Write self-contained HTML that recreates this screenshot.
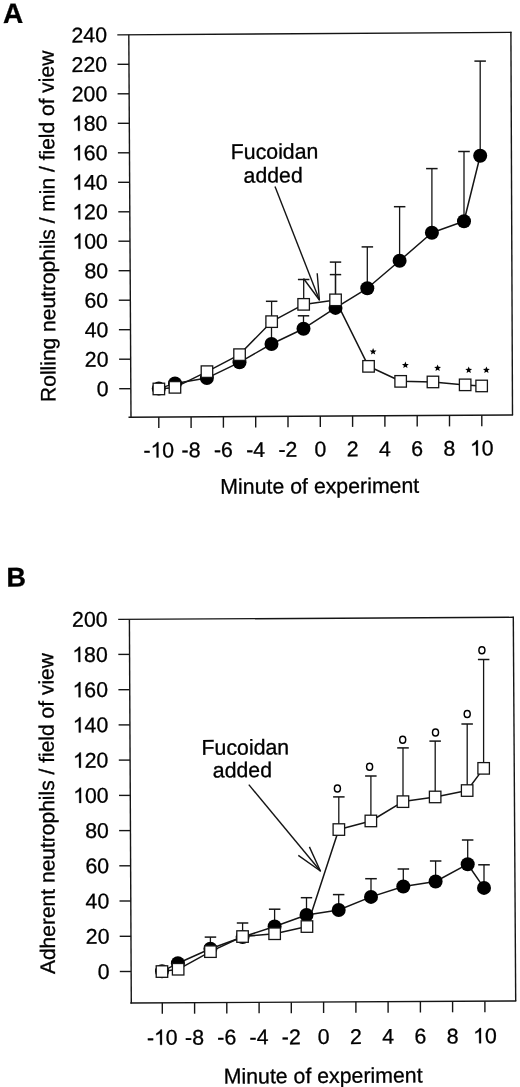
<!DOCTYPE html>
<html><head><meta charset="utf-8"><style>
html,body{margin:0;padding:0;background:#fff;overflow:hidden;}
svg{display:block;filter:grayscale(1);}
text{font-family:"Liberation Sans",sans-serif;fill:#000;stroke:#000;stroke-width:0.3px;}
path{fill:#000;}
</style></head><body>
<svg width="520" height="1087" viewBox="0 0 520 1087">
<rect width="520" height="1087" fill="#fff"/>
<line x1="117.3" y1="34.9" x2="511.5" y2="32.4" stroke="#151515" stroke-width="1.4"/>
<line x1="128.8" y1="34.8" x2="131.0" y2="417.8" stroke="#151515" stroke-width="1.4"/>
<line x1="128.5" y1="417.2" x2="513.1" y2="415.0" stroke="#151515" stroke-width="1.4"/>
<line x1="510.9" y1="31.8" x2="512.5" y2="415.0" stroke="#151515" stroke-width="1.4"/>
<line x1="119.2" y1="388.7" x2="130.7" y2="388.7" stroke="#151515" stroke-width="1.4"/>
<g transform="rotate(-0.33 108.6 396.1)"><text x="96.78" y="396.10" font-size="21.3">0</text></g>
<line x1="119.1" y1="359.2" x2="130.6" y2="359.2" stroke="#151515" stroke-width="1.4"/>
<g transform="rotate(-0.33 108.5 366.6)"><text x="84.80" y="366.61" font-size="21.3">2</text><text x="96.65" y="366.61" font-size="21.3">0</text></g>
<line x1="118.9" y1="329.7" x2="130.4" y2="329.7" stroke="#151515" stroke-width="1.4"/>
<g transform="rotate(-0.33 108.4 337.1)"><text x="84.66" y="337.12" font-size="21.3">4</text><text x="96.51" y="337.12" font-size="21.3">0</text></g>
<line x1="118.8" y1="300.2" x2="130.3" y2="300.2" stroke="#151515" stroke-width="1.4"/>
<g transform="rotate(-0.33 108.2 307.6)"><text x="84.53" y="307.63" font-size="21.3">6</text><text x="96.37" y="307.63" font-size="21.3">0</text></g>
<line x1="118.6" y1="270.7" x2="130.1" y2="270.7" stroke="#151515" stroke-width="1.4"/>
<g transform="rotate(-0.33 108.1 278.1)"><text x="84.39" y="278.14" font-size="21.3">8</text><text x="96.24" y="278.14" font-size="21.3">0</text></g>
<line x1="118.4" y1="241.2" x2="129.9" y2="241.2" stroke="#151515" stroke-width="1.4"/>
<g transform="rotate(-0.33 107.9 248.7)"><path transform="translate(72.41 248.65) scale(0.01040 -0.01040)" d="M769,0 L589,0 L589,1147 C546,1106 490,1065 420,1024 C351,983 288,953 233,932 L233,1106 C332,1153 419,1209 493,1275 C567,1341 619,1405 650,1466 L769,1466 Z" stroke="#000" stroke-width="0.3" vector-effect="non-scaling-stroke"/><text x="84.26" y="248.65" font-size="21.3">0</text><text x="96.10" y="248.65" font-size="21.3">0</text></g>
<line x1="118.3" y1="211.8" x2="129.8" y2="211.8" stroke="#151515" stroke-width="1.4"/>
<g transform="rotate(-0.33 107.8 219.2)"><path transform="translate(72.27 219.16) scale(0.01040 -0.01040)" d="M769,0 L589,0 L589,1147 C546,1106 490,1065 420,1024 C351,983 288,953 233,932 L233,1106 C332,1153 419,1209 493,1275 C567,1341 619,1405 650,1466 L769,1466 Z" stroke="#000" stroke-width="0.3" vector-effect="non-scaling-stroke"/><text x="84.12" y="219.16" font-size="21.3">2</text><text x="95.97" y="219.16" font-size="21.3">0</text></g>
<line x1="118.1" y1="182.3" x2="129.6" y2="182.3" stroke="#151515" stroke-width="1.4"/>
<g transform="rotate(-0.33 107.7 189.7)"><path transform="translate(72.14 189.67) scale(0.01040 -0.01040)" d="M769,0 L589,0 L589,1147 C546,1106 490,1065 420,1024 C351,983 288,953 233,932 L233,1106 C332,1153 419,1209 493,1275 C567,1341 619,1405 650,1466 L769,1466 Z" stroke="#000" stroke-width="0.3" vector-effect="non-scaling-stroke"/><text x="83.99" y="189.67" font-size="21.3">4</text><text x="95.83" y="189.67" font-size="21.3">0</text></g>
<line x1="117.9" y1="152.8" x2="129.4" y2="152.8" stroke="#151515" stroke-width="1.4"/>
<g transform="rotate(-0.33 107.5 160.2)"><path transform="translate(72.00 160.18) scale(0.01040 -0.01040)" d="M769,0 L589,0 L589,1147 C546,1106 490,1065 420,1024 C351,983 288,953 233,932 L233,1106 C332,1153 419,1209 493,1275 C567,1341 619,1405 650,1466 L769,1466 Z" stroke="#000" stroke-width="0.3" vector-effect="non-scaling-stroke"/><text x="83.85" y="160.18" font-size="21.3">6</text><text x="95.70" y="160.18" font-size="21.3">0</text></g>
<line x1="117.8" y1="123.3" x2="129.3" y2="123.3" stroke="#151515" stroke-width="1.4"/>
<g transform="rotate(-0.33 107.4 130.7)"><path transform="translate(71.87 130.69) scale(0.01040 -0.01040)" d="M769,0 L589,0 L589,1147 C546,1106 490,1065 420,1024 C351,983 288,953 233,932 L233,1106 C332,1153 419,1209 493,1275 C567,1341 619,1405 650,1466 L769,1466 Z" stroke="#000" stroke-width="0.3" vector-effect="non-scaling-stroke"/><text x="83.71" y="130.69" font-size="21.3">8</text><text x="95.56" y="130.69" font-size="21.3">0</text></g>
<line x1="117.6" y1="93.8" x2="129.1" y2="93.8" stroke="#151515" stroke-width="1.4"/>
<g transform="rotate(-0.33 107.3 101.2)"><text x="71.73" y="101.20" font-size="21.3">2</text><text x="83.58" y="101.20" font-size="21.3">0</text><text x="95.42" y="101.20" font-size="21.3">0</text></g>
<line x1="117.5" y1="64.3" x2="129.0" y2="64.3" stroke="#151515" stroke-width="1.4"/>
<g transform="rotate(-0.33 107.1 71.7)"><text x="71.60" y="71.71" font-size="21.3">2</text><text x="83.44" y="71.71" font-size="21.3">2</text><text x="95.29" y="71.71" font-size="21.3">0</text></g>
<g transform="rotate(-0.33 107.0 42.2)"><text x="71.46" y="42.22" font-size="21.3">2</text><text x="83.31" y="42.22" font-size="21.3">4</text><text x="95.15" y="42.22" font-size="21.3">0</text></g>
<line x1="158.8" y1="417.0" x2="158.8" y2="428.0" stroke="#151515" stroke-width="1.4"/>
<g transform="rotate(-0.33 158.8 457.4)"><text x="143.41" y="457.44" font-size="21.3">-</text><path transform="translate(150.50 457.44) scale(0.01040 -0.01040)" d="M769,0 L589,0 L589,1147 C546,1106 490,1065 420,1024 C351,983 288,953 233,932 L233,1106 C332,1153 419,1209 493,1275 C567,1341 619,1405 650,1466 L769,1466 Z" stroke="#000" stroke-width="0.3" vector-effect="non-scaling-stroke"/><text x="162.35" y="457.44" font-size="21.3">0</text></g>
<line x1="191.1" y1="416.9" x2="191.1" y2="427.9" stroke="#151515" stroke-width="1.4"/>
<g transform="rotate(-0.33 191.1 457.3)"><text x="181.63" y="457.25" font-size="21.3">-</text><text x="188.72" y="457.25" font-size="21.3">8</text></g>
<line x1="223.4" y1="416.7" x2="223.4" y2="427.7" stroke="#151515" stroke-width="1.4"/>
<g transform="rotate(-0.33 223.4 457.1)"><text x="213.93" y="457.06" font-size="21.3">-</text><text x="221.02" y="457.06" font-size="21.3">6</text></g>
<line x1="255.7" y1="416.5" x2="255.7" y2="427.5" stroke="#151515" stroke-width="1.4"/>
<g transform="rotate(-0.33 255.7 456.9)"><text x="246.23" y="456.88" font-size="21.3">-</text><text x="253.32" y="456.88" font-size="21.3">4</text></g>
<line x1="288.0" y1="416.3" x2="288.0" y2="427.3" stroke="#151515" stroke-width="1.4"/>
<g transform="rotate(-0.33 288.0 456.7)"><text x="278.53" y="456.69" font-size="21.3">-</text><text x="285.62" y="456.69" font-size="21.3">2</text></g>
<line x1="320.3" y1="416.1" x2="320.3" y2="427.1" stroke="#151515" stroke-width="1.4"/>
<g transform="rotate(-0.33 320.3 456.5)"><text x="314.38" y="456.50" font-size="21.3">0</text></g>
<line x1="352.6" y1="415.9" x2="352.6" y2="426.9" stroke="#151515" stroke-width="1.4"/>
<g transform="rotate(-0.33 352.6 456.3)"><text x="346.68" y="456.31" font-size="21.3">2</text></g>
<line x1="384.9" y1="415.7" x2="384.9" y2="426.7" stroke="#151515" stroke-width="1.4"/>
<g transform="rotate(-0.33 384.9 456.1)"><text x="378.98" y="456.13" font-size="21.3">4</text></g>
<line x1="417.2" y1="415.5" x2="417.2" y2="426.5" stroke="#151515" stroke-width="1.4"/>
<g transform="rotate(-0.33 417.2 455.9)"><text x="411.28" y="455.94" font-size="21.3">6</text></g>
<line x1="449.5" y1="415.4" x2="449.5" y2="426.4" stroke="#151515" stroke-width="1.4"/>
<g transform="rotate(-0.33 449.5 455.8)"><text x="443.58" y="455.75" font-size="21.3">8</text></g>
<line x1="481.8" y1="415.2" x2="481.8" y2="426.2" stroke="#151515" stroke-width="1.4"/>
<g transform="rotate(-0.33 481.8 455.6)"><path transform="translate(469.95 455.57) scale(0.01040 -0.01040)" d="M769,0 L589,0 L589,1147 C546,1106 490,1065 420,1024 C351,983 288,953 233,932 L233,1106 C332,1153 419,1209 493,1275 C567,1341 619,1405 650,1466 L769,1466 Z" stroke="#000" stroke-width="0.3" vector-effect="non-scaling-stroke"/><text x="481.80" y="455.57" font-size="21.3">0</text></g>
<text x="319.8" y="493.3" font-size="21.3" text-anchor="middle" font-weight="normal" transform="rotate(-0.33 319.8 493.3)">Minute of experiment</text>
<text x="54.6" y="226.3" font-size="21" text-anchor="middle" font-weight="normal" transform="rotate(-90.33 54.6 226.3)">Rolling neutrophils / min / field of view</text>
<text x="2.9" y="22.9" font-size="28" text-anchor="start" font-weight="bold" transform="rotate(-0.33 2.9 22.9)">A</text>
<line x1="271.5" y1="344.0" x2="271.5" y2="323.0" stroke="#151515" stroke-width="1.3"/>
<line x1="265.8" y1="323.0" x2="277.2" y2="323.0" stroke="#151515" stroke-width="1.5"/>
<line x1="303.5" y1="328.7" x2="303.5" y2="315.8" stroke="#151515" stroke-width="1.3"/>
<line x1="297.8" y1="315.8" x2="309.2" y2="315.8" stroke="#151515" stroke-width="1.5"/>
<line x1="335.5" y1="307.9" x2="335.5" y2="274.6" stroke="#151515" stroke-width="1.3"/>
<line x1="329.8" y1="274.6" x2="341.2" y2="274.6" stroke="#151515" stroke-width="1.5"/>
<line x1="367.3" y1="288.3" x2="367.3" y2="246.9" stroke="#151515" stroke-width="1.3"/>
<line x1="361.6" y1="246.9" x2="373.1" y2="246.9" stroke="#151515" stroke-width="1.5"/>
<line x1="399.6" y1="260.8" x2="399.6" y2="206.7" stroke="#151515" stroke-width="1.3"/>
<line x1="393.9" y1="206.7" x2="405.4" y2="206.7" stroke="#151515" stroke-width="1.5"/>
<line x1="431.9" y1="232.7" x2="431.9" y2="168.6" stroke="#151515" stroke-width="1.3"/>
<line x1="426.1" y1="168.6" x2="437.6" y2="168.6" stroke="#151515" stroke-width="1.5"/>
<line x1="464.0" y1="221.2" x2="464.0" y2="151.5" stroke="#151515" stroke-width="1.3"/>
<line x1="458.2" y1="151.5" x2="469.8" y2="151.5" stroke="#151515" stroke-width="1.5"/>
<line x1="480.2" y1="155.7" x2="480.2" y2="61.1" stroke="#151515" stroke-width="1.3"/>
<line x1="474.4" y1="61.1" x2="485.9" y2="61.1" stroke="#151515" stroke-width="1.5"/>
<line x1="271.6" y1="321.7" x2="271.6" y2="301.3" stroke="#151515" stroke-width="1.3"/>
<line x1="265.9" y1="301.3" x2="277.4" y2="301.3" stroke="#151515" stroke-width="1.5"/>
<line x1="303.7" y1="304.4" x2="303.7" y2="279.5" stroke="#151515" stroke-width="1.3"/>
<line x1="297.9" y1="279.5" x2="309.4" y2="279.5" stroke="#151515" stroke-width="1.5"/>
<line x1="335.5" y1="299.9" x2="335.5" y2="262.1" stroke="#151515" stroke-width="1.3"/>
<line x1="329.8" y1="262.1" x2="341.2" y2="262.1" stroke="#151515" stroke-width="1.5"/>
<polyline points="158.8,388.6 175.0,383.4 206.9,378.1 239.5,362.3 271.5,344.0 303.5,328.7 335.5,307.9 367.3,288.3 399.6,260.8 431.9,232.7 464.0,221.2 480.2,155.7" fill="none" stroke="#151515" stroke-width="1.5" stroke-linejoin="round"/>
<polyline points="158.8,389.0 175.0,387.4 207.0,371.6 239.5,354.6 271.6,321.7 303.7,304.4 335.5,299.9 368.5,366.3 400.7,381.3 433.0,382.0 465.2,384.9 481.6,386.0" fill="none" stroke="#151515" stroke-width="1.5" stroke-linejoin="round"/>
<circle cx="158.8" cy="388.6" r="7.0" fill="#000"/>
<circle cx="175.0" cy="383.4" r="7.0" fill="#000"/>
<circle cx="206.9" cy="378.1" r="7.0" fill="#000"/>
<circle cx="239.5" cy="362.3" r="7.0" fill="#000"/>
<circle cx="271.5" cy="344.0" r="7.0" fill="#000"/>
<circle cx="303.5" cy="328.7" r="7.0" fill="#000"/>
<circle cx="335.5" cy="307.9" r="7.0" fill="#000"/>
<circle cx="367.3" cy="288.3" r="7.0" fill="#000"/>
<circle cx="399.6" cy="260.8" r="7.0" fill="#000"/>
<circle cx="431.9" cy="232.7" r="7.0" fill="#000"/>
<circle cx="464.0" cy="221.2" r="7.0" fill="#000"/>
<circle cx="480.2" cy="155.7" r="7.0" fill="#000"/>
<rect x="153.1" y="383.2" width="11.5" height="11.5" fill="#fff" stroke="#151515" stroke-width="1.3"/>
<rect x="169.2" y="381.6" width="11.5" height="11.5" fill="#fff" stroke="#151515" stroke-width="1.3"/>
<rect x="201.2" y="365.9" width="11.5" height="11.5" fill="#fff" stroke="#151515" stroke-width="1.3"/>
<rect x="233.8" y="348.9" width="11.5" height="11.5" fill="#fff" stroke="#151515" stroke-width="1.3"/>
<rect x="265.9" y="315.9" width="11.5" height="11.5" fill="#fff" stroke="#151515" stroke-width="1.3"/>
<rect x="297.9" y="298.6" width="11.5" height="11.5" fill="#fff" stroke="#151515" stroke-width="1.3"/>
<rect x="329.8" y="294.1" width="11.5" height="11.5" fill="#fff" stroke="#151515" stroke-width="1.3"/>
<rect x="362.8" y="360.6" width="11.5" height="11.5" fill="#fff" stroke="#151515" stroke-width="1.3"/>
<rect x="394.9" y="375.6" width="11.5" height="11.5" fill="#fff" stroke="#151515" stroke-width="1.3"/>
<rect x="427.2" y="376.2" width="11.5" height="11.5" fill="#fff" stroke="#151515" stroke-width="1.3"/>
<rect x="459.4" y="379.1" width="11.5" height="11.5" fill="#fff" stroke="#151515" stroke-width="1.3"/>
<rect x="475.9" y="380.2" width="11.5" height="11.5" fill="#fff" stroke="#151515" stroke-width="1.3"/>
<polygon points="373.10,348.10 374.04,350.41 376.52,350.59 374.62,352.19 375.22,354.61 373.10,353.30 370.98,354.61 371.58,352.19 369.68,350.59 372.16,350.41" fill="#000"/>
<polygon points="405.40,361.60 406.34,363.91 408.82,364.09 406.92,365.69 407.52,368.11 405.40,366.80 403.28,368.11 403.88,365.69 401.98,364.09 404.46,363.91" fill="#000"/>
<polygon points="437.60,364.50 438.54,366.81 441.02,366.99 439.12,368.59 439.72,371.01 437.60,369.70 435.48,371.01 436.08,368.59 434.18,366.99 436.66,366.81" fill="#000"/>
<polygon points="468.70,366.50 469.64,368.81 472.12,368.99 470.22,370.59 470.82,373.01 468.70,371.70 466.58,373.01 467.18,370.59 465.28,368.99 467.76,368.81" fill="#000"/>
<polygon points="486.40,366.50 487.34,368.81 489.82,368.99 487.92,370.59 488.52,373.01 486.40,371.70 484.28,373.01 484.88,370.59 482.98,368.99 485.46,368.81" fill="#000"/>
<text x="274.6" y="158.8" font-size="21.3" text-anchor="middle" font-weight="normal" transform="rotate(-0.33 274.6 158.8)">Fucoidan</text>
<text x="273.2" y="182.5" font-size="21.3" text-anchor="middle" font-weight="normal" transform="rotate(-0.33 273.2 182.5)">added</text>
<line x1="275.0" y1="186.5" x2="319.4" y2="300.0" stroke="#151515" stroke-width="1.4"/>
<polyline points="303.5,278.5 319.4,300.0 317.2,273.3" fill="none" stroke="#151515" stroke-width="1.4" stroke-linejoin="round"/>
<line x1="118.2" y1="619.4" x2="513.9" y2="617.3" stroke="#151515" stroke-width="1.4"/>
<line x1="129.4" y1="619.4" x2="131.3" y2="1003.6" stroke="#151515" stroke-width="1.4"/>
<line x1="130.3" y1="1003.0" x2="516.3" y2="1001.0" stroke="#151515" stroke-width="1.4"/>
<line x1="513.3" y1="616.7" x2="515.7" y2="1001.0" stroke="#151515" stroke-width="1.4"/>
<line x1="119.8" y1="971.5" x2="131.1" y2="971.5" stroke="#151515" stroke-width="1.4"/>
<g transform="rotate(-0.33 109.7 978.9)"><text x="97.87" y="978.90" font-size="21.3">0</text></g>
<line x1="119.7" y1="936.3" x2="131.0" y2="936.3" stroke="#151515" stroke-width="1.4"/>
<g transform="rotate(-0.33 109.5 943.7)"><text x="85.81" y="943.67" font-size="21.3">2</text><text x="97.66" y="943.67" font-size="21.3">0</text></g>
<line x1="119.5" y1="901.0" x2="130.8" y2="901.0" stroke="#151515" stroke-width="1.4"/>
<g transform="rotate(-0.33 109.3 908.4)"><text x="85.60" y="908.44" font-size="21.3">4</text><text x="97.45" y="908.44" font-size="21.3">0</text></g>
<line x1="119.3" y1="865.8" x2="130.6" y2="865.8" stroke="#151515" stroke-width="1.4"/>
<g transform="rotate(-0.33 109.1 873.2)"><text x="85.39" y="873.21" font-size="21.3">6</text><text x="97.23" y="873.21" font-size="21.3">0</text></g>
<line x1="119.1" y1="830.6" x2="130.4" y2="830.6" stroke="#151515" stroke-width="1.4"/>
<g transform="rotate(-0.33 108.9 838.0)"><text x="85.18" y="837.98" font-size="21.3">8</text><text x="97.02" y="837.98" font-size="21.3">0</text></g>
<line x1="119.0" y1="795.4" x2="130.3" y2="795.4" stroke="#151515" stroke-width="1.4"/>
<g transform="rotate(-0.33 108.7 802.8)"><path transform="translate(73.12 802.75) scale(0.01040 -0.01040)" d="M769,0 L589,0 L589,1147 C546,1106 490,1065 420,1024 C351,983 288,953 233,932 L233,1106 C332,1153 419,1209 493,1275 C567,1341 619,1405 650,1466 L769,1466 Z" stroke="#000" stroke-width="0.3" vector-effect="non-scaling-stroke"/><text x="84.97" y="802.75" font-size="21.3">0</text><text x="96.81" y="802.75" font-size="21.3">0</text></g>
<line x1="118.8" y1="760.1" x2="130.1" y2="760.1" stroke="#151515" stroke-width="1.4"/>
<g transform="rotate(-0.33 108.4 767.5)"><path transform="translate(72.91 767.52) scale(0.01040 -0.01040)" d="M769,0 L589,0 L589,1147 C546,1106 490,1065 420,1024 C351,983 288,953 233,932 L233,1106 C332,1153 419,1209 493,1275 C567,1341 619,1405 650,1466 L769,1466 Z" stroke="#000" stroke-width="0.3" vector-effect="non-scaling-stroke"/><text x="84.75" y="767.52" font-size="21.3">2</text><text x="96.60" y="767.52" font-size="21.3">0</text></g>
<line x1="118.6" y1="724.9" x2="129.9" y2="724.9" stroke="#151515" stroke-width="1.4"/>
<g transform="rotate(-0.33 108.2 732.3)"><path transform="translate(72.70 732.29) scale(0.01040 -0.01040)" d="M769,0 L589,0 L589,1147 C546,1106 490,1065 420,1024 C351,983 288,953 233,932 L233,1106 C332,1153 419,1209 493,1275 C567,1341 619,1405 650,1466 L769,1466 Z" stroke="#000" stroke-width="0.3" vector-effect="non-scaling-stroke"/><text x="84.54" y="732.29" font-size="21.3">4</text><text x="96.39" y="732.29" font-size="21.3">0</text></g>
<line x1="118.4" y1="689.7" x2="129.7" y2="689.7" stroke="#151515" stroke-width="1.4"/>
<g transform="rotate(-0.33 108.0 697.1)"><path transform="translate(72.49 697.06) scale(0.01040 -0.01040)" d="M769,0 L589,0 L589,1147 C546,1106 490,1065 420,1024 C351,983 288,953 233,932 L233,1106 C332,1153 419,1209 493,1275 C567,1341 619,1405 650,1466 L769,1466 Z" stroke="#000" stroke-width="0.3" vector-effect="non-scaling-stroke"/><text x="84.33" y="697.06" font-size="21.3">6</text><text x="96.18" y="697.06" font-size="21.3">0</text></g>
<line x1="118.3" y1="654.4" x2="129.6" y2="654.4" stroke="#151515" stroke-width="1.4"/>
<g transform="rotate(-0.33 107.8 661.8)"><path transform="translate(72.27 661.83) scale(0.01040 -0.01040)" d="M769,0 L589,0 L589,1147 C546,1106 490,1065 420,1024 C351,983 288,953 233,932 L233,1106 C332,1153 419,1209 493,1275 C567,1341 619,1405 650,1466 L769,1466 Z" stroke="#000" stroke-width="0.3" vector-effect="non-scaling-stroke"/><text x="84.12" y="661.83" font-size="21.3">8</text><text x="95.97" y="661.83" font-size="21.3">0</text></g>
<g transform="rotate(-0.33 107.6 626.6)"><text x="72.06" y="626.60" font-size="21.3">2</text><text x="83.91" y="626.60" font-size="21.3">0</text><text x="95.76" y="626.60" font-size="21.3">0</text></g>
<line x1="162.3" y1="1002.8" x2="162.3" y2="1013.8" stroke="#151515" stroke-width="1.4"/>
<g transform="rotate(-0.33 162.3 1044.8)"><text x="146.91" y="1044.84" font-size="21.3">-</text><path transform="translate(154.00 1044.84) scale(0.01040 -0.01040)" d="M769,0 L589,0 L589,1147 C546,1106 490,1065 420,1024 C351,983 288,953 233,932 L233,1106 C332,1153 419,1209 493,1275 C567,1341 619,1405 650,1466 L769,1466 Z" stroke="#000" stroke-width="0.3" vector-effect="non-scaling-stroke"/><text x="165.85" y="1044.84" font-size="21.3">0</text></g>
<line x1="194.6" y1="1002.7" x2="194.6" y2="1013.7" stroke="#151515" stroke-width="1.4"/>
<g transform="rotate(-0.33 194.6 1044.7)"><text x="185.09" y="1044.68" font-size="21.3">-</text><text x="192.18" y="1044.68" font-size="21.3">8</text></g>
<line x1="226.8" y1="1002.5" x2="226.8" y2="1013.5" stroke="#151515" stroke-width="1.4"/>
<g transform="rotate(-0.33 226.8 1044.5)"><text x="217.35" y="1044.52" font-size="21.3">-</text><text x="224.44" y="1044.52" font-size="21.3">6</text></g>
<line x1="259.1" y1="1002.3" x2="259.1" y2="1013.3" stroke="#151515" stroke-width="1.4"/>
<g transform="rotate(-0.33 259.1 1044.4)"><text x="249.61" y="1044.36" font-size="21.3">-</text><text x="256.70" y="1044.36" font-size="21.3">4</text></g>
<line x1="291.3" y1="1002.2" x2="291.3" y2="1013.2" stroke="#151515" stroke-width="1.4"/>
<g transform="rotate(-0.33 291.3 1044.2)"><text x="281.87" y="1044.20" font-size="21.3">-</text><text x="288.96" y="1044.20" font-size="21.3">2</text></g>
<line x1="323.6" y1="1002.0" x2="323.6" y2="1013.0" stroke="#151515" stroke-width="1.4"/>
<g transform="rotate(-0.33 323.6 1044.0)"><text x="317.68" y="1044.04" font-size="21.3">0</text></g>
<line x1="355.9" y1="1001.8" x2="355.9" y2="1012.8" stroke="#151515" stroke-width="1.4"/>
<g transform="rotate(-0.33 355.9 1043.9)"><text x="349.94" y="1043.88" font-size="21.3">2</text></g>
<line x1="388.1" y1="1001.7" x2="388.1" y2="1012.7" stroke="#151515" stroke-width="1.4"/>
<g transform="rotate(-0.33 388.1 1043.7)"><text x="382.20" y="1043.71" font-size="21.3">4</text></g>
<line x1="420.4" y1="1001.5" x2="420.4" y2="1012.5" stroke="#151515" stroke-width="1.4"/>
<g transform="rotate(-0.33 420.4 1043.6)"><text x="414.46" y="1043.55" font-size="21.3">6</text></g>
<line x1="452.6" y1="1001.3" x2="452.6" y2="1012.3" stroke="#151515" stroke-width="1.4"/>
<g transform="rotate(-0.33 452.6 1043.4)"><text x="446.72" y="1043.39" font-size="21.3">8</text></g>
<line x1="484.9" y1="1001.2" x2="484.9" y2="1012.2" stroke="#151515" stroke-width="1.4"/>
<g transform="rotate(-0.33 484.9 1043.2)"><path transform="translate(473.05 1043.23) scale(0.01040 -0.01040)" d="M769,0 L589,0 L589,1147 C546,1106 490,1065 420,1024 C351,983 288,953 233,932 L233,1106 C332,1153 419,1209 493,1275 C567,1341 619,1405 650,1466 L769,1466 Z" stroke="#000" stroke-width="0.3" vector-effect="non-scaling-stroke"/><text x="484.90" y="1043.23" font-size="21.3">0</text></g>
<text x="323.2" y="1083.0" font-size="21.3" text-anchor="middle" font-weight="normal" transform="rotate(-0.33 323.2 1083.0)">Minute of experiment</text>
<text x="54.2" y="813.6" font-size="21" text-anchor="middle" font-weight="normal" transform="rotate(-90.33 54.2 813.6)">Adherent neutrophils / field of view</text>
<text x="6.6" y="586.6" font-size="27" text-anchor="start" font-weight="bold" transform="rotate(-0.33 6.6 586.6)">B</text>
<line x1="210.4" y1="948.7" x2="210.4" y2="937.1" stroke="#151515" stroke-width="1.3"/>
<line x1="204.7" y1="937.1" x2="216.2" y2="937.1" stroke="#151515" stroke-width="1.5"/>
<line x1="242.6" y1="937.0" x2="242.6" y2="923.0" stroke="#151515" stroke-width="1.3"/>
<line x1="236.8" y1="923.0" x2="248.3" y2="923.0" stroke="#151515" stroke-width="1.5"/>
<line x1="274.6" y1="926.5" x2="274.6" y2="909.2" stroke="#151515" stroke-width="1.3"/>
<line x1="268.9" y1="909.2" x2="280.4" y2="909.2" stroke="#151515" stroke-width="1.5"/>
<line x1="306.5" y1="915.0" x2="306.5" y2="897.7" stroke="#151515" stroke-width="1.3"/>
<line x1="300.8" y1="897.7" x2="312.2" y2="897.7" stroke="#151515" stroke-width="1.5"/>
<line x1="338.7" y1="910.0" x2="338.7" y2="894.6" stroke="#151515" stroke-width="1.3"/>
<line x1="332.9" y1="894.6" x2="344.4" y2="894.6" stroke="#151515" stroke-width="1.5"/>
<line x1="371.0" y1="896.9" x2="371.0" y2="878.7" stroke="#151515" stroke-width="1.3"/>
<line x1="365.2" y1="878.7" x2="376.8" y2="878.7" stroke="#151515" stroke-width="1.5"/>
<line x1="403.3" y1="886.5" x2="403.3" y2="869.0" stroke="#151515" stroke-width="1.3"/>
<line x1="397.6" y1="869.0" x2="409.1" y2="869.0" stroke="#151515" stroke-width="1.5"/>
<line x1="435.6" y1="881.5" x2="435.6" y2="861.0" stroke="#151515" stroke-width="1.3"/>
<line x1="429.9" y1="861.0" x2="441.4" y2="861.0" stroke="#151515" stroke-width="1.5"/>
<line x1="467.7" y1="864.2" x2="467.7" y2="840.0" stroke="#151515" stroke-width="1.3"/>
<line x1="461.9" y1="840.0" x2="473.4" y2="840.0" stroke="#151515" stroke-width="1.5"/>
<line x1="484.0" y1="887.9" x2="484.0" y2="864.8" stroke="#151515" stroke-width="1.3"/>
<line x1="478.2" y1="864.8" x2="489.8" y2="864.8" stroke="#151515" stroke-width="1.5"/>
<line x1="338.8" y1="829.5" x2="338.8" y2="796.9" stroke="#151515" stroke-width="1.3"/>
<line x1="333.1" y1="796.9" x2="344.6" y2="796.9" stroke="#151515" stroke-width="1.5"/>
<line x1="370.9" y1="821.0" x2="370.9" y2="776.0" stroke="#151515" stroke-width="1.3"/>
<line x1="365.1" y1="776.0" x2="376.6" y2="776.0" stroke="#151515" stroke-width="1.5"/>
<line x1="403.0" y1="801.6" x2="403.0" y2="747.9" stroke="#151515" stroke-width="1.3"/>
<line x1="397.2" y1="747.9" x2="408.8" y2="747.9" stroke="#151515" stroke-width="1.5"/>
<line x1="435.2" y1="797.0" x2="435.2" y2="741.1" stroke="#151515" stroke-width="1.3"/>
<line x1="429.4" y1="741.1" x2="440.9" y2="741.1" stroke="#151515" stroke-width="1.5"/>
<line x1="467.2" y1="790.5" x2="467.2" y2="724.0" stroke="#151515" stroke-width="1.3"/>
<line x1="461.4" y1="724.0" x2="472.9" y2="724.0" stroke="#151515" stroke-width="1.5"/>
<line x1="483.6" y1="768.4" x2="483.6" y2="659.5" stroke="#151515" stroke-width="1.3"/>
<line x1="477.9" y1="659.5" x2="489.4" y2="659.5" stroke="#151515" stroke-width="1.5"/>
<polyline points="162.0,971.3 177.9,963.3 210.4,948.7 242.6,937.0 274.6,926.5 306.5,915.0 338.7,910.0 371.0,896.9 403.3,886.5 435.6,881.5 467.7,864.2 484.0,887.9" fill="none" stroke="#151515" stroke-width="1.5" stroke-linejoin="round"/>
<polyline points="162.0,971.5 178.2,969.3 210.4,951.6 242.6,936.5 274.7,933.8 307.0,926.5 338.8,829.5 370.9,821.0 403.0,801.6 435.2,797.0 467.2,790.5 483.6,768.4" fill="none" stroke="#151515" stroke-width="1.5" stroke-linejoin="round"/>
<circle cx="162.0" cy="971.3" r="7.0" fill="#000"/>
<circle cx="177.9" cy="963.3" r="7.0" fill="#000"/>
<circle cx="210.4" cy="948.7" r="7.0" fill="#000"/>
<circle cx="242.6" cy="937.0" r="7.0" fill="#000"/>
<circle cx="274.6" cy="926.5" r="7.0" fill="#000"/>
<circle cx="306.5" cy="915.0" r="7.0" fill="#000"/>
<circle cx="338.7" cy="910.0" r="7.0" fill="#000"/>
<circle cx="371.0" cy="896.9" r="7.0" fill="#000"/>
<circle cx="403.3" cy="886.5" r="7.0" fill="#000"/>
<circle cx="435.6" cy="881.5" r="7.0" fill="#000"/>
<circle cx="467.7" cy="864.2" r="7.0" fill="#000"/>
<circle cx="484.0" cy="887.9" r="7.0" fill="#000"/>
<rect x="156.2" y="965.8" width="11.5" height="11.5" fill="#fff" stroke="#151515" stroke-width="1.3"/>
<rect x="172.4" y="963.5" width="11.5" height="11.5" fill="#fff" stroke="#151515" stroke-width="1.3"/>
<rect x="204.7" y="945.9" width="11.5" height="11.5" fill="#fff" stroke="#151515" stroke-width="1.3"/>
<rect x="236.8" y="930.8" width="11.5" height="11.5" fill="#fff" stroke="#151515" stroke-width="1.3"/>
<rect x="268.9" y="928.0" width="11.5" height="11.5" fill="#fff" stroke="#151515" stroke-width="1.3"/>
<rect x="301.2" y="920.8" width="11.5" height="11.5" fill="#fff" stroke="#151515" stroke-width="1.3"/>
<rect x="333.1" y="823.8" width="11.5" height="11.5" fill="#fff" stroke="#151515" stroke-width="1.3"/>
<rect x="365.1" y="815.2" width="11.5" height="11.5" fill="#fff" stroke="#151515" stroke-width="1.3"/>
<rect x="397.2" y="795.9" width="11.5" height="11.5" fill="#fff" stroke="#151515" stroke-width="1.3"/>
<rect x="429.4" y="791.2" width="11.5" height="11.5" fill="#fff" stroke="#151515" stroke-width="1.3"/>
<rect x="461.4" y="784.8" width="11.5" height="11.5" fill="#fff" stroke="#151515" stroke-width="1.3"/>
<rect x="477.9" y="762.6" width="11.5" height="11.5" fill="#fff" stroke="#151515" stroke-width="1.3"/>
<ellipse cx="337.4" cy="788.4" rx="3.0" ry="3.5" fill="none" stroke="#000" stroke-width="1.5"/>
<ellipse cx="369.6" cy="766.7" rx="3.0" ry="3.5" fill="none" stroke="#000" stroke-width="1.5"/>
<ellipse cx="402.7" cy="739.8" rx="3.0" ry="3.5" fill="none" stroke="#000" stroke-width="1.5"/>
<ellipse cx="435.5" cy="732.4" rx="3.0" ry="3.5" fill="none" stroke="#000" stroke-width="1.5"/>
<ellipse cx="467.2" cy="714.0" rx="3.0" ry="3.5" fill="none" stroke="#000" stroke-width="1.5"/>
<ellipse cx="481.9" cy="650.2" rx="3.0" ry="3.5" fill="none" stroke="#000" stroke-width="1.5"/>
<text x="245.4" y="754.6" font-size="21.3" text-anchor="middle" font-weight="normal" transform="rotate(-0.33 245.4 754.6)">Fucoidan</text>
<text x="242.4" y="777.3" font-size="21.3" text-anchor="middle" font-weight="normal" transform="rotate(-0.33 242.4 777.3)">added</text>
<line x1="248.8" y1="784.6" x2="320.4" y2="871.0" stroke="#151515" stroke-width="1.4"/>
<polyline points="298.3,855.4 320.4,871.0 309.4,846.9" fill="none" stroke="#151515" stroke-width="1.4" stroke-linejoin="round"/>
</svg>
</body></html>
